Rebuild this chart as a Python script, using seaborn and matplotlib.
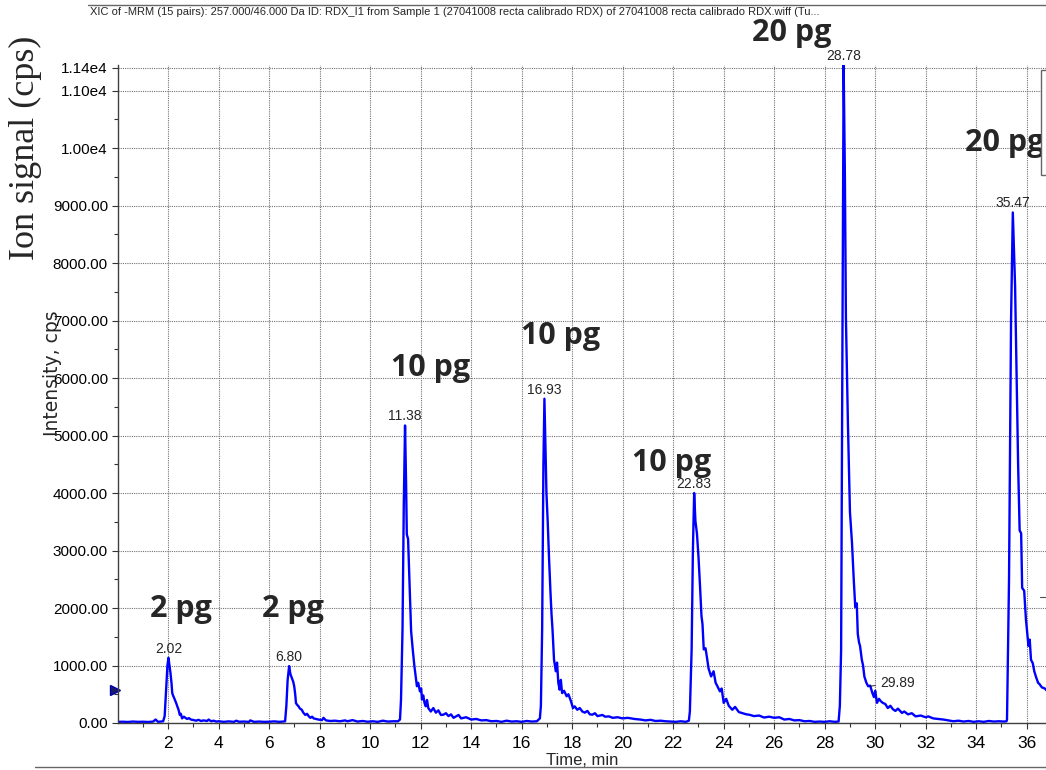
import seaborn as sns
import pandas as pd
import numpy as np
import matplotlib.pyplot as plt
from matplotlib.lines import Line2D
from matplotlib.patches import Rectangle

# ---- chromatogram trace, one piece per peak ----
t_a = [0.0, 0.2, 0.4, 0.6, 0.8, 1.0, 1.2, 1.4, 1.5, 1.6, 1.7, 1.8, 1.86, 1.92, 1.97, 2.01,
       2.05, 2.09, 2.13, 2.16, 2.2, 2.24, 2.29, 2.33, 2.36, 2.41, 2.46, 2.5, 2.55, 2.62, 2.68,
       2.75, 2.82, 2.9, 3.02, 3.1, 3.2, 3.3, 3.4, 3.54, 3.6, 3.7, 3.8, 3.9, 4.0, 4.2, 4.4, 4.6,
       4.7, 4.8, 5.0, 5.2, 5.25, 5.4, 5.6, 5.8, 6.0, 6.2, 6.4, 6.55]
i_a = [20, 22, 18, 25, 20, 22, 18, 24, 60, 20, 25, 30, 120, 600, 1000, 1135,
       1000, 870, 700, 520, 470, 430, 375, 330, 290, 230, 140, 160, 80, 110, 90,
       70, 85, 60, 50, 40, 55, 35, 45, 35, 60, 30, 40, 25, 30, 20, 28, 20,
       40, 22, 25, 20, 45, 20, 25, 20, 22, 28, 20, 25]

t_b = [6.63, 6.68, 6.73, 6.79, 6.84, 6.9, 6.95, 6.99, 7.03, 7.06, 7.1, 7.16, 7.22, 7.29, 7.35,
       7.43, 7.5, 7.56, 7.63, 7.7, 7.76, 7.85, 7.95, 8.09, 8.15, 8.25, 8.42, 8.6, 8.8, 9.0, 9.1,
       9.3, 9.5, 9.7, 9.9, 10.1, 10.3, 10.5, 10.7, 10.9, 11.1, 11.18]
i_b = [30, 300, 750, 990, 850, 780, 720, 640, 500, 345, 320, 290, 250, 230, 180,
       140, 160, 120, 90, 110, 80, 70, 60, 50, 90, 45, 35, 40, 30, 45, 30,
       50, 25, 35, 22, 30, 20, 40, 25, 30, 30, 60]

t_c = [11.22, 11.28, 11.33, 11.38, 11.42, 11.45, 11.5, 11.56, 11.62, 11.68, 11.75, 11.8, 11.85,
       11.9, 11.97, 12.02, 12.05, 12.1, 12.15, 12.2, 12.25, 12.3, 12.4, 12.5, 12.6, 12.7, 12.8,
       12.9, 13.0, 13.1, 13.2, 13.3, 13.4, 13.5, 13.6, 13.8, 14.0, 14.2, 14.4, 14.6, 14.8, 15.0,
       15.2, 15.4, 15.6, 15.8, 16.0, 16.2, 16.4, 16.6, 16.72]
i_c = [400, 1630, 3800, 5175, 4200, 3280, 3200, 2400, 1600, 1300, 990, 820, 640,
       700, 550, 600, 410, 480, 350, 290, 400, 260, 200, 260, 180, 220, 140,
       145, 170, 120, 150, 90, 115, 140, 80, 100, 60, 70, 45, 50, 30, 35,
       20, 40, 25, 30, 20, 35, 25, 30, 80]

t_d = [16.76, 16.81, 16.86, 16.9, 16.94, 16.98, 17.03, 17.08, 17.14, 17.18, 17.22, 17.28, 17.35,
       17.4, 17.45, 17.5, 17.55, 17.6, 17.68, 17.78, 17.85, 17.95, 18.03, 18.1, 18.2, 18.3, 18.4,
       18.5, 18.6, 18.7, 18.8, 18.9, 19.0, 19.2, 19.3, 19.46, 19.6, 19.8, 20.0, 20.2, 20.47, 20.7,
       20.9, 21.1, 21.3, 21.5, 21.7, 21.9, 22.1, 22.3, 22.5, 22.62]
i_d = [300, 1630, 4500, 5640, 4800, 4000, 3500, 2900, 2270, 1900, 1630, 1100, 900,
       1050, 700, 580, 750, 520, 560, 465, 500, 380, 260, 290, 230, 260, 200,
       180, 210, 150, 145, 170, 120, 140, 110, 115, 90, 100, 80, 90, 70, 60,
       45, 55, 35, 40, 30, 25, 20, 30, 20, 40]

t_e = [22.66, 22.73, 22.78, 22.83, 22.88, 22.94, 23.0, 23.06, 23.12, 23.16, 23.21, 23.28, 23.33,
       23.4, 23.5, 23.6, 23.68, 23.75, 23.85, 23.92, 24.0, 24.1, 24.2, 24.34, 24.45, 24.6, 24.75,
       24.9, 25.0, 25.2, 25.4, 25.6, 25.8, 26.0, 26.2, 26.4, 26.6, 26.8, 27.0, 27.2, 27.4, 27.6,
       27.8, 28.0, 28.2, 28.4, 28.55]
i_e = [200, 1280, 3000, 4000, 3510, 3300, 2900, 2400, 1860, 1720, 1280, 1300, 1160,
       950, 810, 900, 700, 640, 550, 600, 350, 420, 300, 230, 280, 190, 170,
       150, 145, 120, 130, 95, 110, 90, 100, 60, 70, 45, 50, 30, 35, 20,
       25, 20, 30, 20, 25]

t_f = [28.6, 28.65, 28.7, 28.75, 28.8, 28.84, 28.92, 29.0, 29.08, 29.15, 29.21, 29.27, 29.31,
       29.36, 29.4, 29.47, 29.52, 29.57, 29.65, 29.72, 29.8, 29.89, 29.95, 30.0, 30.07, 30.15,
       30.22, 30.3, 30.4, 30.5, 30.6, 30.7, 30.8, 30.9, 31.06, 31.15, 31.3, 31.45, 31.6, 31.8,
       32.0, 32.1, 32.3, 32.5, 32.7, 32.9, 33.1, 33.3, 33.5, 33.7, 33.9, 34.1, 34.3, 34.5, 34.7,
       34.9, 35.1, 35.2]
i_f = [300, 1270, 6500, 11450, 9500, 7050, 5200, 3670, 3140, 2500, 2015, 2080, 1550,
       1400, 1340, 1100, 1000, 810, 700, 640, 650, 520, 450, 560, 350, 420,
       380, 350, 330, 260, 300, 240, 210, 250, 175, 200, 150, 170, 115, 130,
       100, 115, 80, 70, 60, 45, 30, 40, 25, 35, 20, 30, 20, 35, 25,
       30, 25, 30]

t_g = [35.22, 35.3, 35.38, 35.45, 35.5, 35.54, 35.6, 35.66, 35.72, 35.78, 35.82, 35.9, 35.97,
       36.07, 36.12, 36.17, 36.24, 36.3, 36.37, 36.45, 36.51, 36.6, 36.72, 36.8]
i_g = [60, 2500, 7000, 8880, 8200, 7600, 6000, 4500, 3350, 3300, 2350, 2300, 1800,
       1340, 1450, 1100, 1040, 900, 800, 700, 675, 620, 600, 560]

# peak apex labels
peak_rt = ["2.02", "6.80", "11.38", "16.93", "22.83", "28.78", "35.47"]
peak_t = [2.01, 6.79, 11.38, 16.9, 22.83, 28.75, 35.45]
peak_top = [1135, 990, 5175, 5640, 4000, 11450, 8880]

amounts = ["2 pg", "2 pg", "10 pg", "10 pg", "10 pg", "20 pg", "20 pg"]
amount_xy = [(2.51, 1983), (6.94, 1983), (12.41, 6174), (17.52, 6730),
             (21.95, 4522), (26.71, 12000), (33.56, 10087)]

y_ticks = [0, 1000, 2000, 3000, 4000, 5000, 6000, 7000, 8000, 9000, 10000, 11000, 11400]
y_labels = ["0.00", "1000.00", "2000.00", "3000.00", "4000.00", "5000.00", "6000.00",
            "7000.00", "8000.00", "9000.00", "1.00e4", "1.10e4", "1.14e4"]
x_ticks = list(range(2, 37, 2))

title = ("XIC of -MRM (15 pairs): 257.000/46.000 Da ID: RDX_I1 from Sample 1 "
         "(27041008 recta calibrado RDX) of 27041008 recta calibrado RDX.wiff (Tu...")

trace = pd.DataFrame({
    "time": t_a + t_b + t_c + t_d + t_e + t_f + t_g,
    "intensity": i_a + i_b + i_c + i_d + i_e + i_f + i_g,
})

sns.set_style("white")
narrow = ["Liberation Sans Narrow", "Liberation Sans", "DejaVu Sans"]
plt.rcParams["font.family"] = narrow

W, H = 1046, 770
fig = plt.figure(figsize=(W / 100, H / 100), dpi=100)
x0, x1, y_base, y_top = 117.7, 1046, 723, 64.7
ax = fig.add_axes([x0 / W, 1 - y_base / H, (x1 - x0) / W, (y_base - y_top) / H])

sns.lineplot(data=trace, x="time", y="intensity", color="#0000ff", linewidth=1.7,
             ax=ax, sort=False)

ax.set_xlim(0, (x1 - x0) / 25.25)
ax.set_ylim(0, 11450)
ax.set_xticks(x_ticks)
ax.set_xticklabels([str(v) for v in x_ticks])
ax.set_xticks(range(1, 37, 2), minor=True)
ax.set_yticks(y_ticks)
ax.set_yticklabels(y_labels)
ax.set_yticks(range(500, 11000, 1000), minor=True)
ax.tick_params(axis="both", which="major", direction="out", length=4, width=0.8,
               color="0.2", labelcolor="black", pad=3)
ax.tick_params(axis="y", which="major", labelsize=11)
ax.tick_params(axis="x", which="major", labelsize=12.5, pad=5)
ax.tick_params(axis="both", which="minor", direction="out", length=3, width=0.8, color="0.2")
ax.xaxis.set_ticks_position("bottom")
ax.yaxis.set_ticks_position("left")

ax.grid(True, which="major", color="0.45", linestyle=(0, (1, 1)), linewidth=0.8)
for side in ["top", "right"]:
    ax.spines[side].set_visible(False)
for side in ["left", "bottom"]:
    ax.spines[side].set_color("0.25")
    ax.spines[side].set_linewidth(1.0)

ax.set_xlabel("Time, min", fontsize=12, labelpad=2)
ax.set_ylabel("")

for lab, t, v in zip(peak_rt, peak_t, peak_top):
    ax.annotate(lab, (t, v), xytext=(0, 1.5), textcoords="offset points",
                ha="center", va="bottom", fontsize=10, annotation_clip=False)

ax.annotate("29.89", (29.8, 640), xytext=(880, H - 683), textcoords="figure pixels",
            ha="left", va="center", fontsize=10,
            arrowprops=dict(arrowstyle="-", color="black", lw=0.6, shrinkA=1, shrinkB=0))

for i, (lab, (t, v)) in enumerate(zip(amounts, amount_xy)):
    ax.text(t, v, lab, ha="left" if i == len(amounts) - 1 else "center", va="center",
            fontsize=22, fontweight="bold", family=["Open Sans", "DejaVu Sans"],
            clip_on=False)

# threshold marker at left axis
ax.plot([-0.12], [575], marker=">", color="#1a1a66", markersize=7, clip_on=False,
        markeredgecolor="#0000aa")

# axis titles
fig.text(52 / W, 1 - 373 / H, "Intensity, cps", rotation=90, ha="center", va="center",
         fontsize=13.5, color="0.15", family=["DejaVu Sans"])
fig.text(25 / W, 1 - 148 / H, "Ion signal (cps)", rotation=90, ha="center", va="center",
         fontsize=26, family=["Liberation Serif", "DejaVu Serif"])

fig.text(90 / W, 1 - 12 / H, title, ha="left", va="center", fontsize=8)

fig.add_artist(Line2D([88 / W, 1], [1 - 5 / H] * 2, color="0.4", lw=1))
fig.add_artist(Line2D([35 / W, 1], [1 - 767 / H] * 2, color="0.4", lw=1))
fig.add_artist(Line2D([1040 / W, 1], [1 - 597 / H] * 2, color="0.3", lw=0.8))
fig.add_artist(Rectangle((1041 / W, 1 - 175 / H), 10 / W, 105 / H, facecolor="white",
                         edgecolor="0.4", lw=1, transform=fig.transFigure, zorder=10))

fig.savefig("out.png", dpi=100)
